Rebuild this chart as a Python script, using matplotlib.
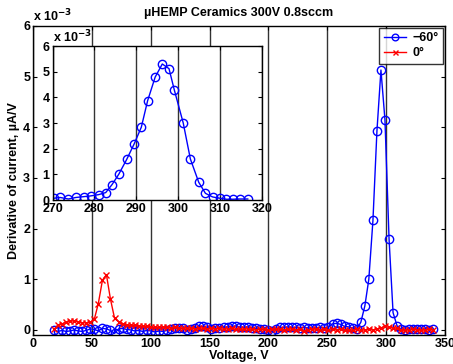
import numpy as np
import matplotlib
matplotlib.use("Agg")
import matplotlib.pyplot as plt

plt.rcParams['font.family'] = ['Liberation Sans', 'DejaVu Sans']
plt.rcParams['font.weight'] = 'bold'

# voltage sweep (V)
voltage = [17.8, 21.2, 24.7, 28.1, 31.5, 35.0, 38.4, 41.8, 45.2, 48.7,
           52.1, 55.5, 59.0, 62.4, 65.8, 69.3, 72.7, 76.1, 79.5, 83.0,
           86.4, 89.8, 93.3, 96.7, 100.1, 103.6, 107.0, 110.4, 113.8, 117.3,
           120.7, 124.1, 127.6, 131.0, 134.4, 137.9, 141.3, 144.7, 148.1, 151.6,
           155.0, 158.4, 161.9, 165.3, 168.7, 172.2, 175.6, 179.0, 182.4, 185.9,
           189.3, 192.7, 196.2, 199.6, 203.0, 206.4, 209.9, 213.3, 216.7, 220.2,
           223.6, 227.0, 230.5, 233.9, 237.3, 240.7, 244.2, 247.6, 251.0, 254.5,
           257.9, 261.3, 264.7, 268.2, 271.6, 275.0, 278.5, 281.9, 285.3, 288.8,
           292.2, 295.6, 299.0, 302.5, 305.9, 309.3, 312.8, 316.2, 319.6, 323.0,
           326.5, 329.9, 333.3, 336.7, 340.2]

# derivative of current, x 1e-3 uA/V
deriv_m60 = [0.00, -0.03, -0.01, -0.03, -0.02, 0.00, -0.02, -0.03, -0.01, 0.02,
             0.01, -0.02, 0.03, 0.02, -0.01, -0.07, 0.02, 0.03, 0.01, 0.00,
             -0.02, -0.01, -0.03, -0.01, -0.02, -0.04, -0.02, -0.03, -0.01, 0.02,
             0.04, 0.03, 0.03, 0.00, 0.01, 0.04, 0.07, 0.07, 0.05, 0.02,
             0.03, 0.04, 0.05, 0.06, 0.07, 0.08, 0.06, 0.05, 0.06, 0.04,
             0.03, 0.02, 0.01, -0.01, -0.03, 0.02, 0.05, 0.05, 0.06, 0.05,
             0.05, 0.04, 0.05, 0.04, 0.03, 0.04, 0.05, 0.04, 0.06, 0.12,
             0.13, 0.11, 0.07, 0.06, 0.04, 0.02, 0.15, 0.47, 1.00, 2.16,
             3.93, 5.13, 4.15, 1.79, 0.34, 0.08, 0.01, 0.00, 0.02, 0.01,
             0.02, 0.01, 0.02, 0.00, 0.01]

deriv_0 = [0.01, 0.10, 0.12, 0.15, 0.17, 0.18, 0.16, 0.14, 0.14, 0.15,
           0.21, 0.52, 0.98, 1.09, 0.61, 0.23, 0.16, 0.12, 0.10, 0.09,
           0.09, 0.08, 0.07, 0.07, 0.06, 0.05, 0.05, 0.06, 0.05, 0.04,
           0.05, 0.04, 0.03, 0.04, 0.03, 0.02, 0.04, 0.03, 0.02, 0.03,
           0.02, 0.03, 0.01, 0.02, 0.03, 0.01, 0.02, 0.01, 0.02, 0.01,
           0.00, 0.02, 0.01, 0.00, 0.01, 0.02, 0.01, 0.00, 0.01, 0.02,
           0.00, 0.01, -0.02, 0.00, 0.02, 0.01, 0.00, 0.01, -0.01, 0.01,
           0.00, 0.01, 0.00, -0.01, 0.00, 0.01, -0.01, 0.00, 0.01, 0.00,
           0.02, 0.04, 0.07, 0.05, 0.04, 0.03, 0.00, -0.01, 0.00, 0.01,
           0.00, -0.01, 0.00, 0.01, 0.00]

# zoomed peak of the -60 deg curve
zoom_v = [270.4, 271.8, 273.8, 275.6, 277.4, 279.1, 281.0, 282.7, 284.2, 285.8,
          287.7, 289.5, 291.2, 292.7, 294.5, 296.2, 297.8, 299.1, 301.2, 302.9,
          304.9, 306.5, 308.2, 309.9, 311.5, 313.0, 314.8, 316.6]
zoom_d = [0.07, 0.10, 0.04, 0.10, 0.13, 0.16, 0.21, 0.29, 0.60, 1.00,
          1.58, 2.19, 2.84, 3.87, 4.79, 5.30, 5.12, 4.27, 3.00, 1.60,
          0.69, 0.26, 0.12, 0.07, 0.03, 0.03, 0.04, 0.04]

labels = ['\u221260\u00b0', '0\u00b0']
main_xticks = [0, 50, 100, 150, 200, 250, 300, 350]
main_yticks = [0, 1, 2, 3, 4, 5, 6]
zoom_xticks = [270, 280, 290, 300, 310, 320]

fig = plt.figure(figsize=(4.53, 3.64), dpi=100)
ax = fig.add_axes([0.0728, 0.0797, 0.9095, 0.849])

def style_axes(a, xt, yt):
    a.set_xticks(xt)
    a.set_yticks(yt)
    a.tick_params(direction='in', top=True, right=True, length=3,
                  width=0.8, labelsize=9, pad=2)
    for s in a.spines.values():
        s.set_linewidth(1.0)
    a.xaxis.grid(True, color='0.2', linewidth=1.0)
    a.set_axisbelow(True)
    for lab in a.get_xticklabels() + a.get_yticklabels():
        lab.set_fontweight('bold')

ax.plot(voltage, deriv_m60, '-o', color='#0000ff', lw=1.0, ms=6,
        mfc='none', mew=1.0, label=labels[0])
ax.plot(voltage, deriv_0, '-x', color='#ff0000', lw=1.0, ms=4.5,
        mew=1.0, label=labels[1])
ax.set_xlim(0, 350)
ax.set_ylim(-0.1, 6)
style_axes(ax, main_xticks, main_yticks)
ax.set_xlabel('Voltage, V', fontsize=9, fontweight='bold', labelpad=0)
ax.set_ylabel('Derivative of current, \u00b5A/V', fontsize=9,
              fontweight='bold', labelpad=2)
ax.set_title('\u00b5HEMP Ceramics 300V 0.8sccm', fontsize=9,
             fontweight='bold', pad=7)
ax.text(0.0, 1.005, 'x 10$^{\\mathbf{-3}}$', transform=ax.transAxes,
        fontsize=9, fontweight='bold', ha='left', va='bottom')

leg = ax.legend(loc='upper right', fontsize=9, frameon=True, fancybox=False,
                edgecolor='black', borderpad=0.35, handlelength=1.8,
                handletextpad=0.5, labelspacing=0.25, borderaxespad=0.15,
                markerscale=0.8)
leg.get_frame().set_linewidth(1.0)
for t in leg.get_texts():
    t.set_fontweight('bold')
    t.set_ha('right')

ins = fig.add_axes([0.1159, 0.4505, 0.4625, 0.423])
ins.set_facecolor('white')
ins.plot(zoom_v, zoom_d, '-o', color='#0000ff', lw=1.0, ms=6,
         mfc='none', mew=1.0)
ins.set_xlim(270, 320)
ins.set_ylim(0, 6)
style_axes(ins, zoom_xticks, main_yticks)
ins.text(0.0, 1.005, 'x 10$^{\\mathbf{-3}}$', transform=ins.transAxes,
         fontsize=9, fontweight='bold', ha='left', va='bottom')

fig.savefig('out.png', dpi=100)
